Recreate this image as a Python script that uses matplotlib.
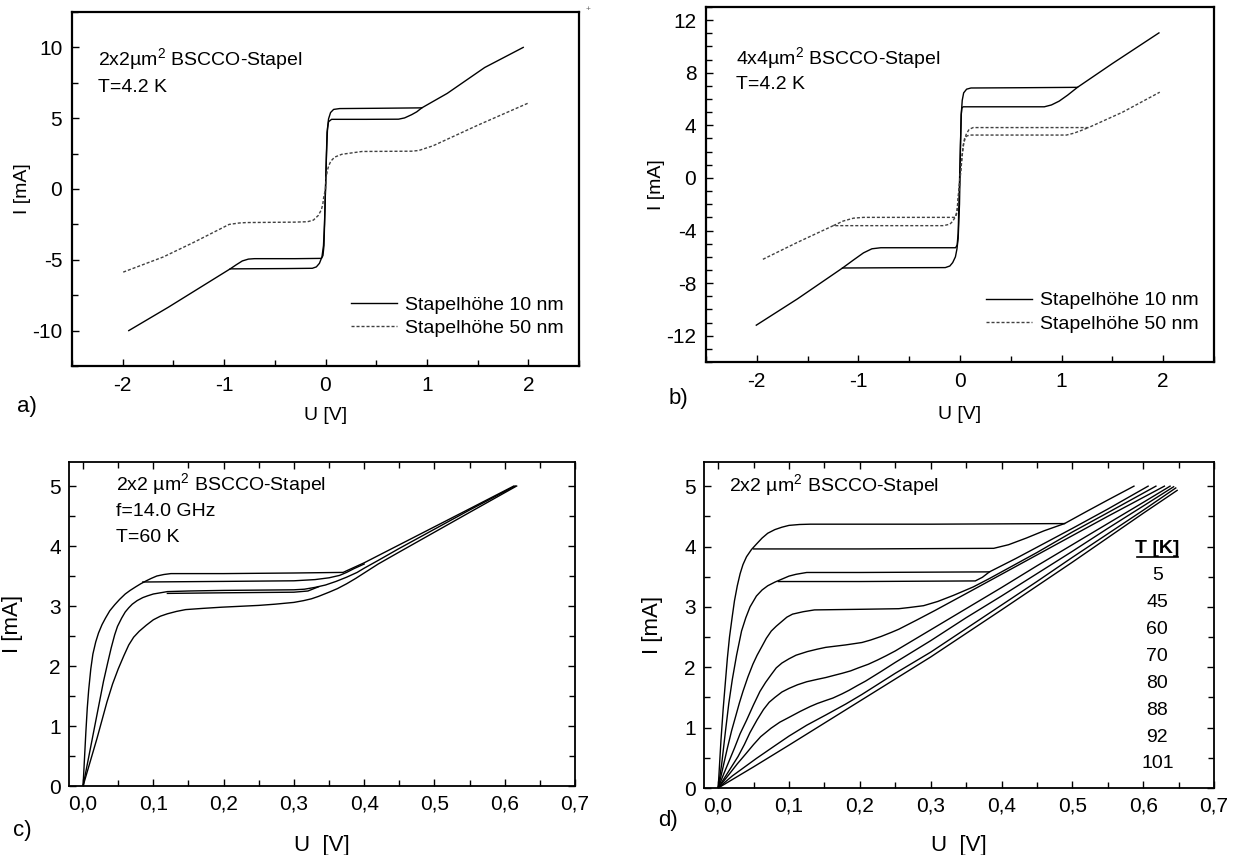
import matplotlib
matplotlib.use("Agg")
import matplotlib.pyplot as plt
from matplotlib.ticker import MultipleLocator, FuncFormatter

plt.rcParams['font.family'] = ['Liberation Sans', 'DejaVu Sans']
plt.rcParams['mathtext.fontset'] = 'custom'
plt.rcParams['mathtext.rm'] = 'Liberation Sans'
plt.rcParams['axes.unicode_minus'] = False

# ---------------- data ----------------
# a) 2x2 um^2, T=4.2 K
a10_outer_u = [-1.94, -1.55, -0.94, -0.40, -0.13, -0.09, -0.06, -0.035, -0.02, -0.01, 0.0, 0.01, 0.02, 0.03, 0.05, 0.08, 0.14, 0.50, 0.95, 1.20, 1.57, 1.95]
a10_outer_i = [-10.0, -8.35, -5.64, -5.62, -5.6, -5.5, -5.25, -4.8, -4.0, -2.5, 0.0, 2.5, 4.3, 4.95, 5.4, 5.62, 5.68, 5.70, 5.73, 6.75, 8.58, 10.0]
a10_inner_u = [-0.94, -0.88, -0.82, -0.76, -0.70, -0.30, -0.04, -0.025, -0.015, 0.015, 0.03, 0.06, 0.40, 0.72, 0.78, 0.85, 0.90, 0.95]
a10_inner_i = [-5.64, -5.35, -5.08, -4.95, -4.92, -4.92, -4.9, -4.7, -4.0, 4.0, 4.75, 4.92, 4.92, 4.93, 5.02, 5.25, 5.45, 5.73]
a50_u = [-1.995, -1.60, -1.30, -0.95, -0.85, -0.78, -0.30, -0.177, -0.12, -0.07, -0.04, -0.026, -0.018, 0.0, 0.007, 0.018, 0.03, 0.045, 0.057, 0.09, 0.16, 0.36, 0.85, 0.92, 1.06, 1.50, 2.01]
a50_i = [-5.87, -4.80, -3.77, -2.50, -2.40, -2.37, -2.34, -2.31, -2.2, -1.86, -1.45, -1.04, -0.6, 0.0, 0.8, 1.3, 1.6, 1.85, 2.0, 2.25, 2.45, 2.65, 2.67, 2.72, 3.05, 4.50, 6.10]

# b) 4x4 um^2, T=4.2 K
b10_outer_u = [-2.005, -1.60, -1.156, -0.60, -0.145, -0.10, -0.072, -0.045, -0.03, -0.018, -0.005, 0.0, 0.005, 0.012, 0.022, 0.036, 0.065, 0.108, 0.60, 1.156, 1.50, 1.958]
b10_outer_i = [-11.2, -9.2, -6.85, -6.83, -6.82, -6.7, -6.44, -6.0, -5.4, -4.6, -2.0, 0.0, 2.5, 4.8, 5.9, 6.47, 6.75, 6.84, 6.86, 6.89, 8.7, 11.03]
b10_inner_u = [-1.156, -1.05, -0.95, -0.867, -0.78, -0.40, -0.043, -0.028, -0.018, 0.012, 0.018, 0.03, 0.40, 0.83, 0.90, 0.976, 1.06, 1.156]
b10_inner_i = [-6.85, -6.25, -5.7, -5.39, -5.31, -5.31, -5.31, -5.1, -4.2, 4.8, 5.3, 5.41, 5.41, 5.41, 5.55, 5.84, 6.3, 6.89]
b50_outer_u = [-1.94, -1.60, -1.247, -0.70, -0.163, -0.10, -0.072, -0.045, -0.029, -0.018, 0.0, 0.018, 0.036, 0.06, 0.09, 0.13, 0.70, 1.265, 1.60, 1.966]
b50_outer_i = [-6.19, -4.90, -3.63, -3.63, -3.63, -3.52, -3.3, -2.95, -2.5, -1.43, 0.0, 1.58, 2.58, 3.3, 3.7, 3.83, 3.83, 3.83, 5.0, 6.52]
b50_inner_u = [-1.247, -1.15, -1.048, -0.95, -0.50, -0.05, -0.035, -0.025, 0.03, 0.045, 0.07, 0.10, 0.60, 1.048, 1.12, 1.19, 1.265]
b50_inner_i = [-3.63, -3.28, -3.06, -3.0, -3.0, -3.0, -2.8, -2.3, 2.4, 3.0, 3.2, 3.26, 3.26, 3.26, 3.4, 3.6, 3.83]

# c) 2x2 um^2, f=14.0 GHz, T=60 K
c1_u = [0.0, 0.002, 0.004, 0.006, 0.008, 0.011, 0.014, 0.018, 0.022, 0.027, 0.032, 0.038, 0.045, 0.052, 0.06, 0.067, 0.075, 0.082, 0.09, 0.097, 0.105, 0.115, 0.125, 0.20, 0.30, 0.37, 0.40, 0.45, 0.50, 0.55, 0.613]
c1_i = [0.0, 0.45, 0.9, 1.3, 1.6, 1.95, 2.2, 2.4, 2.55, 2.69, 2.8, 2.92, 3.02, 3.11, 3.2, 3.26, 3.32, 3.37, 3.42, 3.46, 3.5, 3.525, 3.54, 3.54, 3.55, 3.56, 3.72, 4.02, 4.32, 4.62, 5.0]
c1b_u = [0.085, 0.20, 0.30, 0.33, 0.35, 0.365, 0.375, 0.385, 0.40]
c1b_i = [3.40, 3.41, 3.42, 3.44, 3.47, 3.51, 3.56, 3.62, 3.70]
c2_u = [0.0, 0.01, 0.02, 0.029, 0.035, 0.04, 0.045, 0.049, 0.055, 0.06, 0.065, 0.07, 0.077, 0.085, 0.092, 0.10, 0.11, 0.12, 0.15, 0.20, 0.30, 0.315, 0.33, 0.345, 0.36, 0.375, 0.39, 0.40, 0.42, 0.45, 0.50, 0.55, 0.615]
c2_i = [0.0, 0.6, 1.2, 1.74, 2.05, 2.3, 2.52, 2.66, 2.8, 2.9, 2.97, 3.03, 3.09, 3.14, 3.17, 3.2, 3.22, 3.24, 3.25, 3.26, 3.27, 3.28, 3.31, 3.35, 3.41, 3.48, 3.56, 3.63, 3.76, 3.96, 4.28, 4.6, 5.0]
c2b_u = [0.12, 0.20, 0.30, 0.32, 0.335]
c2b_i = [3.21, 3.22, 3.23, 3.25, 3.32]
c3_u = [0.0, 0.01, 0.02, 0.034, 0.042, 0.05, 0.058, 0.065, 0.072, 0.08, 0.09, 0.10, 0.11, 0.12, 0.133, 0.146, 0.17, 0.197, 0.25, 0.273, 0.30, 0.314, 0.325, 0.335, 0.35, 0.362, 0.375, 0.388, 0.40, 0.42, 0.45, 0.50, 0.55, 0.617]
c3_i = [0.0, 0.4, 0.8, 1.4, 1.7, 1.95, 2.17, 2.35, 2.48, 2.58, 2.68, 2.77, 2.83, 2.87, 2.91, 2.94, 2.96, 2.98, 3.01, 3.03, 3.06, 3.09, 3.12, 3.16, 3.23, 3.29, 3.37, 3.46, 3.55, 3.7, 3.9, 4.23, 4.56, 5.0]

# d) 2x2 um^2, temperature series
d_temps = ['5', '45', '60', '70', '80', '88', '92', '101']
d5_u = [0.0, 0.002, 0.004, 0.007, 0.0103, 0.013, 0.016, 0.02, 0.023, 0.027, 0.031, 0.035, 0.04, 0.047, 0.054, 0.062, 0.07, 0.08, 0.09, 0.10, 0.115, 0.13, 0.30, 0.489, 0.52, 0.55, 0.587]
d5_i = [0.0, 0.4, 0.8, 1.3, 1.77, 2.15, 2.5, 2.85, 3.1, 3.35, 3.55, 3.7, 3.83, 3.95, 4.04, 4.14, 4.22, 4.28, 4.32, 4.35, 4.365, 4.37, 4.37, 4.38, 4.58, 4.77, 5.0]
d5b_u = [0.05, 0.20, 0.389, 0.41, 0.435, 0.46, 0.489]
d5b_i = [3.96, 3.96, 3.97, 4.03, 4.14, 4.26, 4.38]
d45_u = [0.0, 0.005, 0.0103, 0.015, 0.02, 0.026, 0.033, 0.039, 0.045, 0.054, 0.062, 0.07, 0.08, 0.09, 0.10, 0.11, 0.125, 0.20, 0.383, 0.42, 0.50, 0.55, 0.607]
d45_i = [0.0, 0.4, 0.94, 1.4, 1.8, 2.2, 2.6, 2.82, 3.0, 3.18, 3.28, 3.35, 3.41, 3.46, 3.51, 3.54, 3.57, 3.57, 3.58, 3.8, 4.3, 4.62, 5.0]
d45b_u = [0.085, 0.20, 0.363, 0.373, 0.383]
d45b_i = [3.42, 3.42, 3.43, 3.49, 3.58]
d60_u = [0.0, 0.006, 0.013, 0.019, 0.025, 0.03, 0.035, 0.042, 0.049, 0.055, 0.062, 0.068, 0.075, 0.082, 0.09, 0.097, 0.105, 0.12, 0.136, 0.20, 0.255, 0.27, 0.29, 0.31, 0.332, 0.36, 0.383, 0.45, 0.50, 0.55, 0.618]
d60_i = [0.0, 0.3, 0.66, 0.95, 1.2, 1.41, 1.6, 1.84, 2.05, 2.2, 2.35, 2.48, 2.6, 2.68, 2.76, 2.83, 2.88, 2.92, 2.95, 2.96, 2.97, 2.99, 3.02, 3.09, 3.19, 3.33, 3.47, 3.9, 4.24, 4.56, 5.0]
d70_u = [0.0, 0.006, 0.012, 0.023, 0.031, 0.04, 0.05, 0.059, 0.067, 0.075, 0.082, 0.09, 0.10, 0.11, 0.126, 0.14, 0.152, 0.18, 0.203, 0.215, 0.23, 0.245, 0.255, 0.28, 0.306, 0.35, 0.40, 0.45, 0.50, 0.55, 0.63]
d70_i = [0.0, 0.18, 0.35, 0.66, 0.9, 1.12, 1.38, 1.6, 1.75, 1.88, 1.99, 2.07, 2.14, 2.2, 2.26, 2.3, 2.33, 2.37, 2.41, 2.45, 2.51, 2.58, 2.63, 2.78, 2.94, 3.22, 3.54, 3.86, 4.18, 4.5, 5.0]
d80_u = [0.0, 0.008, 0.015, 0.028, 0.037, 0.045, 0.055, 0.064, 0.072, 0.08, 0.09, 0.10, 0.112, 0.125, 0.14, 0.152, 0.165, 0.175, 0.187, 0.198, 0.212, 0.225, 0.237, 0.25, 0.30, 0.35, 0.40, 0.45, 0.50, 0.55, 0.60, 0.638]
d80_i = [0.0, 0.15, 0.28, 0.52, 0.72, 0.92, 1.13, 1.3, 1.42, 1.5, 1.59, 1.65, 1.71, 1.76, 1.8, 1.83, 1.87, 1.9, 1.94, 1.99, 2.05, 2.12, 2.19, 2.27, 2.62, 2.97, 3.32, 3.68, 4.03, 4.38, 4.73, 5.0]
d88_u = [0.0, 0.015, 0.027, 0.0386, 0.05, 0.06, 0.0746, 0.087, 0.10, 0.116, 0.13, 0.14, 0.152, 0.162, 0.175, 0.185, 0.197, 0.208, 0.23, 0.25, 0.30, 0.35, 0.40, 0.45, 0.50, 0.55, 0.60, 0.643]
d88_i = [0.0, 0.22, 0.4, 0.56, 0.72, 0.85, 0.99, 1.09, 1.17, 1.27, 1.35, 1.4, 1.45, 1.49, 1.56, 1.62, 1.7, 1.77, 1.93, 2.08, 2.44, 2.82, 3.18, 3.55, 3.92, 4.3, 4.67, 4.99]
d92_u = [0.0, 0.02, 0.054, 0.08, 0.10, 0.125, 0.152, 0.18, 0.203, 0.25, 0.30, 0.35, 0.40, 0.45, 0.50, 0.55, 0.60, 0.646]
d92_i = [0.0, 0.2, 0.49, 0.7, 0.86, 1.04, 1.21, 1.39, 1.55, 1.9, 2.25, 2.64, 3.03, 3.42, 3.82, 4.21, 4.6, 4.97]
d101_u = [0.0, 0.05, 0.10, 0.20, 0.30, 0.40, 0.50, 0.60, 0.648]
d101_i = [0.0, 0.35, 0.71, 1.44, 2.17, 2.95, 3.74, 4.55, 4.93]

# ---------------- figure ----------------
W, H = 1233, 855
fig = plt.figure(figsize=(W / 100, H / 100), dpi=100)


def box(l, r, t, b):
    return [l / W, 1 - b / H, (r - l) / W, (b - t) / H]


ax_a = fig.add_axes(box(72, 579, 12, 366))
ax_b = fig.add_axes(box(706, 1214, 7, 362))
ax_c = fig.add_axes(box(69, 575, 462, 786))
ax_d = fig.add_axes(box(704, 1214, 462, 788))

lw = 1.0
dash = (2.2, 1.4)

# a
ax_a.plot(a10_outer_u, a10_outer_i, color='k', lw=lw, label='Stapelhöhe 10 nm')
ax_a.plot(a10_inner_u, a10_inner_i, color='k', lw=lw)
ax_a.plot(a50_u, a50_i, color='0.25', lw=lw, dashes=dash, label='Stapelhöhe 50 nm')

# b
ax_b.plot(b10_outer_u, b10_outer_i, color='k', lw=lw, label='Stapelhöhe 10 nm')
ax_b.plot(b10_inner_u, b10_inner_i, color='k', lw=lw)
ax_b.plot(b50_outer_u, b50_outer_i, color='0.25', lw=lw, dashes=dash, label='Stapelhöhe 50 nm')
ax_b.plot(b50_inner_u, b50_inner_i, color='0.25', lw=lw, dashes=dash)

# c
for u, i in [(c1_u, c1_i), (c1b_u, c1b_i), (c2_u, c2_i), (c2b_u, c2b_i), (c3_u, c3_i)]:
    ax_c.plot(u, i, color='k', lw=lw)

# d
for u, i in [(d5_u, d5_i), (d5b_u, d5b_i), (d45_u, d45_i), (d45b_u, d45b_i), (d60_u, d60_i),
             (d70_u, d70_i), (d80_u, d80_i), (d88_u, d88_i), (d92_u, d92_i), (d101_u, d101_i)]:
    ax_d.plot(u, i, color='k', lw=lw)

# axes styling
for ax in (ax_a, ax_b):
    ax.set_xlim(-2.5, 2.5)
    ax.xaxis.set_major_locator(MultipleLocator(1))
    ax.xaxis.set_minor_locator(MultipleLocator(0.5))
    ax.tick_params(which='both', direction='in', top=False, right=False, labelsize=15, width=1.0, pad=7)
    ax.tick_params(which='major', length=5)
    ax.tick_params(which='minor', length=4)
    for s in ax.spines.values():
        s.set_linewidth(1.6)
    ax.set_xlabel('U [V]', fontsize=14)
    ax.set_ylabel('I [mA]', fontsize=14)

ax_a.set_ylim(-12.5, 12.5)
ax_a.yaxis.set_major_locator(MultipleLocator(5))
ax_a.yaxis.set_minor_locator(MultipleLocator(2.5))
ax_b.set_ylim(-14, 13)
ax_b.yaxis.set_major_locator(MultipleLocator(4))
ax_b.yaxis.set_minor_locator(MultipleLocator(1))

comma = FuncFormatter(lambda v, p: ('%.1f' % v).replace('.', ','))
for ax in (ax_c, ax_d):
    ax.set_xlim(-0.02, 0.70)
    ax.set_ylim(0, 5.4)
    ax.xaxis.set_major_locator(MultipleLocator(0.1))
    ax.xaxis.set_minor_locator(MultipleLocator(0.05))
    ax.yaxis.set_major_locator(MultipleLocator(1))
    ax.yaxis.set_minor_locator(MultipleLocator(0.5))
    ax.xaxis.set_major_formatter(comma)
    ax.tick_params(which='both', direction='in', top=True, right=True, labelsize=15, width=1.0, pad=6)
    ax.tick_params(which='major', length=5)
    ax.tick_params(which='minor', length=4)
    for s in ax.spines.values():
        s.set_linewidth(1.3)
    ax.set_xlabel('U  [V]', fontsize=16)
    ax.set_ylabel('I [mA]', fontsize=16)

ax_a.xaxis.set_label_coords(0.5, -0.115)
ax_b.xaxis.set_label_coords(0.5, -0.125)
ax_c.xaxis.set_label_coords(0.5, -0.15)
ax_d.xaxis.set_label_coords(0.5, -0.145)
ax_a.yaxis.set_label_coords(-0.08, 0.5)
ax_b.yaxis.set_label_coords(-0.08, 0.5)
ax_c.yaxis.set_label_coords(-0.09, 0.5)
ax_d.yaxis.set_label_coords(-0.08, 0.5)

# annotations
ax_a.text(-2.24, 9.16, '2x2µm$^2$ BSCCO-Stapel', fontsize=14, va='center')
ax_a.text(-2.24, 7.19, 'T=4.2 K', fontsize=14, va='center')
ax_b.text(-2.2, 9.1, '4x4µm$^2$ BSCCO-Stapel', fontsize=14, va='center')
ax_b.text(-2.2, 7.09, 'T=4.2 K', fontsize=14, va='center')
ax_c.text(0.047, 5.02, '2x2 µm$^2$ BSCCO-Stapel', fontsize=14, va='center')
ax_c.text(0.047, 4.57, 'f=14.0 GHz', fontsize=14, va='center')
ax_c.text(0.047, 4.14, 'T=60 K', fontsize=14, va='center')
ax_d.text(0.0155, 5.0, '2x2 µm$^2$ BSCCO-Stapel', fontsize=14, va='center')

for ax in (ax_a, ax_b):
    ax.legend(loc='lower right', bbox_to_anchor=(0.985, 0.06), frameon=False, fontsize=14,
              handlelength=2.4, handletextpad=0.4, labelspacing=0.3, borderaxespad=0)

# temperature list in d
ax_d.text(0.62, 3.97, 'T [K]', fontsize=14, fontweight='bold', ha='center', va='center')
ax_d.plot([0.591, 0.649], [3.82, 3.82], color='k', lw=1.2)
for n, t in enumerate(d_temps):
    ax_d.text(0.62, 3.52 - n * 0.446, t, fontsize=14, ha='center', va='center')

# panel letters
fig.text(27 / W, 1 - 406 / H, 'a)', fontsize=16, ha='center', va='center')
fig.text(678 / W, 1 - 398 / H, 'b)', fontsize=16, ha='center', va='center')
fig.text(22 / W, 1 - 830 / H, 'c)', fontsize=16, ha='center', va='center')
fig.text(668 / W, 1 - 820 / H, 'd)', fontsize=16, ha='center', va='center')
fig.text(588 / W, 1 - 9 / H, '+', fontsize=6, color='0.4', ha='center', va='center')

fig.savefig('out.png', dpi=100)
